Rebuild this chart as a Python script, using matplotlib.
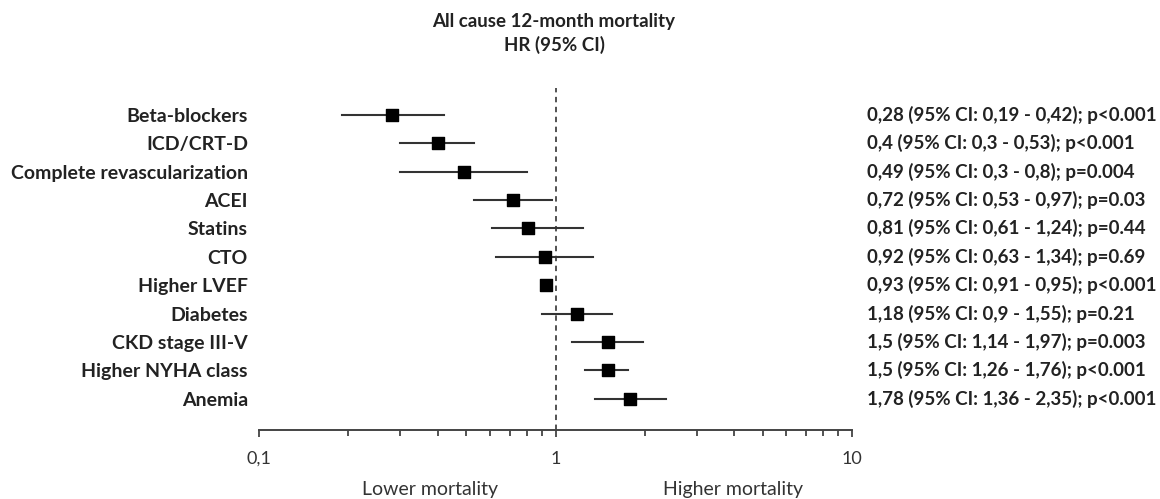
import matplotlib.pyplot as plt
from matplotlib.ticker import FixedLocator, NullFormatter

plt.rcParams['font.family'] = ['Lato', 'DejaVu Sans']

# Datos del forest plot
variables = ['Beta-blockers', 'ICD/CRT-D', 'Complete revascularization', 'ACEI',
             'Statins', 'CTO', 'Higher LVEF', 'Diabetes', 'CKD stage III-V',
             'Higher NYHA class', 'Anemia']
hr = [0.28, 0.4, 0.49, 0.72, 0.81, 0.92, 0.93, 1.18, 1.5, 1.5, 1.78]
ci_low = [0.19, 0.3, 0.3, 0.53, 0.61, 0.63, 0.91, 0.9, 1.14, 1.26, 1.36]
ci_high = [0.42, 0.53, 0.8, 0.97, 1.24, 1.34, 0.95, 1.55, 1.97, 1.76, 2.35]
p_text = ['p<0.001', 'p<0.001', 'p=0.004', 'p=0.03', 'p=0.44', 'p=0.69',
          'p<0.001', 'p=0.21', 'p=0.003', 'p<0.001', 'p<0.001']


def coma(v):
    return str(v).replace('.', ',')


fig = plt.figure(figsize=(11.6, 4.99), dpi=100)
ax = fig.add_axes([0.2233, 0.1383, 0.5112, 0.6857])

ys = list(range(len(variables)))
for y, h, lo, hi in zip(ys, hr, ci_low, ci_high):
    ax.plot([lo, hi], [y, y], color='#333333', lw=1.5, zorder=2)
ax.scatter(hr, ys, marker='s', s=85, color='black', zorder=3)

ax.axvline(1, color='#444444', ls=(0, (3, 2.5)), lw=1.3, zorder=1)

ax.set_xscale('log')
ax.set_xlim(0.1, 10)
ax.set_ylim(11.1, -0.95)

for s in ['top', 'right', 'left']:
    ax.spines[s].set_visible(False)
ax.spines['bottom'].set_color('#444444')
ax.spines['bottom'].set_linewidth(1.4)

ax.xaxis.set_major_locator(FixedLocator([0.1, 1, 10]))
ax.set_xticklabels(['0,1', '1', '10'], fontsize=13, color='#333333')
ax.xaxis.set_minor_locator(FixedLocator([0.2, 0.3, 0.4, 0.5, 0.6, 0.7, 0.8, 0.9,
                                          2, 3, 4, 5, 6, 7, 8, 9]))
ax.xaxis.set_minor_formatter(NullFormatter())
ax.tick_params(axis='x', which='major', direction='out', length=5, width=1.3,
               color='#444444', pad=10)
ax.tick_params(axis='x', which='minor', direction='out', length=4, width=1.3,
               color='#444444')

ax.set_yticks(ys)
ax.set_yticklabels(variables, fontsize=14, fontweight='bold', color='#222222')
ax.tick_params(axis='y', length=0, pad=8)

# Texto derecho con HR e IC
for y, h, lo, hi, p in zip(ys, hr, ci_low, ci_high, p_text):
    txt = f"{coma(h)} (95% CI: {coma(lo)} - {coma(hi)}); {p}"
    ax.text(1.025, y, txt, transform=ax.get_yaxis_transform(), fontsize=13.5,
            fontweight='bold', color='#222222', va='center', ha='left')

fig.text(0.4776, 0.956, 'All cause 12-month mortality', ha='center', va='center',
         fontsize=13.5, fontweight='bold', color='#222222')
fig.text(0.4776, 0.91, 'HR (95% CI)', ha='center', va='center',
         fontsize=13.5, fontweight='bold', color='#222222')

fig.text(0.371, 0.02, 'Lower mortality', ha='center', va='center',
         fontsize=14, color='#333333')
fig.text(0.632, 0.02, 'Higher mortality', ha='center', va='center',
         fontsize=14, color='#333333')

fig.savefig('out.png', dpi=100)
